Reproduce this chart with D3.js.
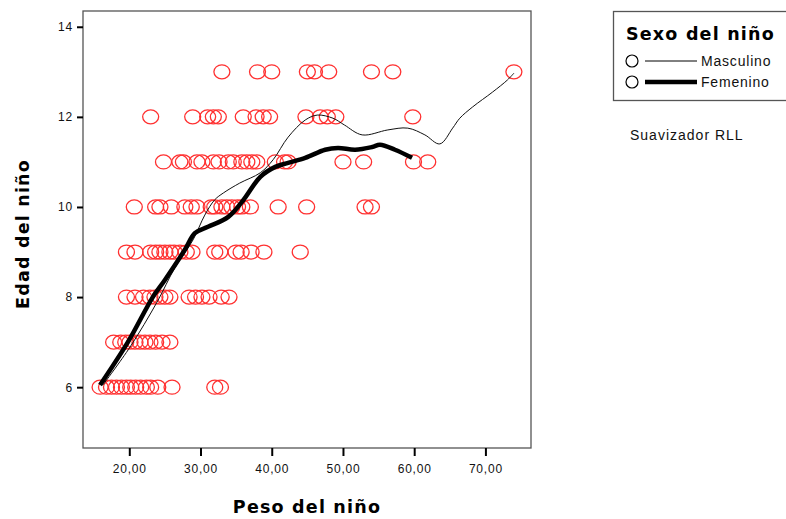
<!DOCTYPE html>
<html>
<head>
<meta charset="utf-8">
<script src="https://cdn.jsdelivr.net/npm/d3@7"></script>
<style>
  html, body { margin: 0; padding: 0; background: #fff; }
  svg { display: block; }
  text { font-family: Arial, "Liberation Sans", sans-serif; }
  .titulo { font-family: "DejaVu Sans", Verdana, sans-serif; font-weight: bold; letter-spacing: 1.2px; }
</style>
</head>
<body>
<script>
// Peso (kg) y edad (años) de cada niño
const pesos = [
  // edad 13
  33, 38, 40, 45, 46, 48, 54, 57, 74,
  // edad 12
  23, 28.9, 31, 31.8, 32.5, 36, 37.8, 38.8, 39.7, 44.8, 46.8, 47.8, 49, 59.8,
  // edad 11
  24.8, 27.1, 27.6, 29.5, 30.2, 31.8, 32.6, 33.9, 34.6, 35.8, 36.5, 37.2, 37.9, 40.5, 41.8, 42.3, 50, 52.9, 59.9, 61.9,
  // edad 10
  20.7, 23.7, 24.3, 25.9, 27.8, 28.7, 29.5, 31.5, 32, 33, 33.7, 34.4, 35.2, 35.8, 37, 40.9, 44.9, 53.1, 54,
  // edad 9
  19.6, 20.8, 23, 23.7, 24.3, 25, 25.7, 26.3, 27.1, 28, 28.8, 32, 32.7, 35, 35.7, 37.1, 38.9, 44,
  // edad 8
  19.6, 20.8, 22, 22.9, 23.6, 24.3, 25, 25.7, 28.4, 29.3, 30.2, 31.2, 32.9, 34,
  // edad 7
  17.8, 18.8, 19.5, 20.1, 20.8, 21.5, 22.2, 22.9, 23.7, 24.6, 25.7,
  // edad 6
  15.9, 16.8, 17.5, 18.2, 18.9, 19.6, 20.2, 20.9, 21.6, 22.4, 23, 24, 26, 32, 32.8
];
const edades = [
  13, 13, 13, 13, 13, 13, 13, 13, 13,
  12, 12, 12, 12, 12, 12, 12, 12, 12, 12, 12, 12, 12, 12,
  11, 11, 11, 11, 11, 11, 11, 11, 11, 11, 11, 11, 11, 11, 11, 11, 11, 11, 11, 11,
  10, 10, 10, 10, 10, 10, 10, 10, 10, 10, 10, 10, 10, 10, 10, 10, 10, 10, 10,
  9, 9, 9, 9, 9, 9, 9, 9, 9, 9, 9, 9, 9, 9, 9, 9, 9, 9,
  8, 8, 8, 8, 8, 8, 8, 8, 8, 8, 8, 8, 8, 8,
  7, 7, 7, 7, 7, 7, 7, 7, 7, 7, 7,
  6, 6, 6, 6, 6, 6, 6, 6, 6, 6, 6, 6, 6, 6, 6
];

// Suavizado RLL por sexo
const rllMascPeso = [16.3, 20.1, 23.9, 26.4, 28.95, 30.6, 32.0, 33.2, 35.5, 38.4, 40.2, 42.3, 44.7, 46.4, 48.6, 50.2, 52.7, 56.3, 59.1, 61.5, 63.6, 65.4, 66.4, 68.2, 71.0, 73.1, 74.0];
const rllMascEdad = [6.05, 6.89, 7.89, 8.65, 9.27, 9.82, 10.16, 10.31, 10.53, 10.76, 11.05, 11.55, 11.93, 12.04, 11.97, 11.82, 11.60, 11.71, 11.75, 11.60, 11.40, 11.75, 11.97, 12.22, 12.55, 12.82, 12.97];
const rllFemPeso = [15.9, 19.8, 23.3, 25.0, 27.8, 29.2, 31.05, 33.9, 36.0, 38.4, 40.5, 42.3, 44.7, 47.5, 49.3, 51.7, 54.1, 55.2, 57.3, 59.7];
const rllFemEdad = [6.05, 7.0, 8.0, 8.38, 9.05, 9.42, 9.56, 9.78, 10.15, 10.67, 10.89, 10.98, 11.09, 11.27, 11.31, 11.27, 11.33, 11.38, 11.27, 11.09];

const ticksX = [20, 30, 40, 50, 60, 70];
const ticksY = [6, 8, 10, 12, 14];
const sexos = ["Masculino", "Femenino"];

const W = 786, H = 519;
const svg = d3.select("body").append("svg").attr("width", W).attr("height", H);

const x = d3.scaleLinear().domain([13.5, 76.4]).range([83, 531]);
const y = d3.scaleLinear().domain([4.65, 14.35]).range([448, 11]);

// Marco del gráfico
svg.append("rect")
  .attr("x", x.range()[0]).attr("y", y.range()[1])
  .attr("width", x.range()[1] - x.range()[0])
  .attr("height", y.range()[0] - y.range()[1])
  .attr("fill", "#fff").attr("stroke", "#555").attr("stroke-width", 1.3);

const fmt = d => d3.format(".2f")(d).replace(".", ",");

// Eje X
const gx = svg.append("g").attr("transform", `translate(0,${y.range()[0]})`)
  .call(d3.axisBottom(x).tickValues(ticksX).tickFormat(fmt).tickSize(8).tickSizeOuter(0));
gx.select(".domain").remove();
gx.selectAll(".tick line").attr("stroke", "#000").attr("stroke-width", 2);
gx.selectAll(".tick text").attr("font-size", 12).attr("letter-spacing", 0.8)
  .attr("fill", "#111").attr("dy", "1.15em");

// Eje Y
const gy = svg.append("g").attr("transform", `translate(${x.range()[0]},0)`)
  .call(d3.axisLeft(y).tickValues(ticksY).tickFormat(d3.format("d")).tickSize(6).tickSizeOuter(0));
gy.select(".domain").remove();
gy.selectAll(".tick line").attr("stroke", "#000").attr("stroke-width", 2);
gy.selectAll(".tick text").attr("font-size", 12).attr("letter-spacing", 0.8)
  .attr("fill", "#111").attr("x", -10);

// Títulos de los ejes
svg.append("text").attr("class", "titulo").attr("x", 307).attr("y", 513).attr("text-anchor", "middle")
  .attr("font-size", 17.5).text("Peso del niño");
svg.append("text").attr("class", "titulo").attr("transform", "translate(29,234) rotate(-90)")
  .attr("text-anchor", "middle").attr("font-size", 17.5).text("Edad del niño");

// Puntos
const puntos = pesos.map((p, i) => ({ peso: p, edad: edades[i] }));
svg.append("g").selectAll("ellipse").data(puntos).join("ellipse")
  .attr("cx", d => x(d.peso)).attr("cy", d => y(d.edad))
  .attr("rx", 8).attr("ry", 7)
  .attr("fill", "none").attr("stroke", "#ff3030").attr("stroke-width", 1.3);

// Curvas suavizadas
const linea = d3.line().x(d => x(d[0])).y(d => y(d[1])).curve(d3.curveCatmullRom.alpha(0.5));
svg.append("path").datum(d3.zip(rllMascPeso, rllMascEdad))
  .attr("d", linea).attr("fill", "none").attr("stroke", "#111").attr("stroke-width", 1);
svg.append("path").datum(d3.zip(rllFemPeso, rllFemEdad))
  .attr("d", linea).attr("fill", "none").attr("stroke", "#000").attr("stroke-width", 4.5)
  .attr("stroke-linejoin", "round");

// Leyenda
const lg = svg.append("g");
lg.append("rect").attr("x", 613.5).attr("y", 11.5).attr("width", 180).attr("height", 89)
  .attr("fill", "#fff").attr("stroke", "#555").attr("stroke-width", 1.3);
lg.append("text").attr("class", "titulo").attr("x", 626).attr("y", 40).attr("font-size", 17.5)
  .text("Sexo del niño");
sexos.forEach((s, i) => {
  const cy = 61 + i * 21;
  lg.append("circle").attr("cx", 632).attr("cy", cy).attr("r", 6)
    .attr("fill", "none").attr("stroke", "#000").attr("stroke-width", 1.2);
  lg.append("line").attr("x1", 645).attr("x2", 697).attr("y1", cy).attr("y2", cy)
    .attr("stroke", "#000").attr("stroke-width", i === 0 ? 1 : 4.5);
  lg.append("text").attr("x", 701).attr("y", cy + 5).attr("font-size", 14).attr("letter-spacing", 0.8)
    .attr("fill", "#111").text(s);
});
svg.append("text").attr("x", 630).attr("y", 140).attr("font-size", 14).attr("letter-spacing", 1)
  .attr("fill", "#111").text("Suavizador RLL");
</script>
</body>
</html>
